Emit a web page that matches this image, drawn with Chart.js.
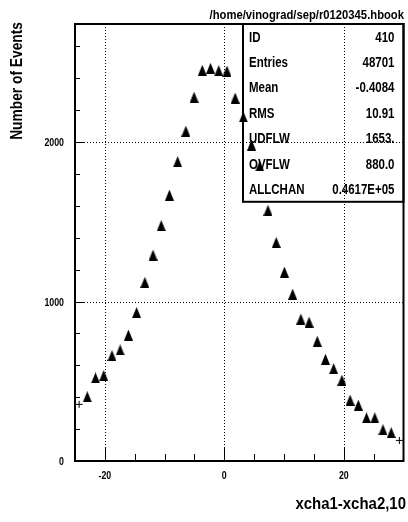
<!DOCTYPE html>
<html>
<head>
<meta charset="utf-8">
<title>xcha1-xcha2,10</title>
<script src="https://cdn.jsdelivr.net/npm/chart.js@4.4.1/dist/chart.umd.min.js"></script>
<style>
  html, body { margin: 0; padding: 0; background: #fff; }
  canvas { display: block; }
</style>
</head>
<body>
<canvas id="c" width="408" height="522"></canvas>
<script>
// Histogram 410: xcha1-xcha2, 40 bins from -25 to 30
const binCenters = [
  -24.31, -22.94, -21.56, -20.19, -18.81, -17.44, -16.06, -14.69, -13.31, -11.94,
  -10.56, -9.19, -7.81, -6.44, -5.06, -3.69, -2.31, -0.94, 0.44, 1.81,
  3.19, 4.56, 5.94, 7.31, 8.69, 10.06, 11.44, 12.81, 14.19, 15.56,
  16.94, 18.31, 19.69, 21.06, 22.44, 23.81, 25.19, 26.56, 27.94, 29.31
];
const counts = [
  355, 403, 521, 536, 661, 696, 790, 931, 1120, 1291,
  1476, 1667, 1877, 2068, 2281, 2450, 2462, 2447, 2445, 2276,
  2157, 1981, 1850, 1572, 1370, 1185, 1046, 890, 871, 751,
  638, 579, 507, 382, 350, 271, 271, 197, 178, 129
];

// Axis ranges and ticks
const xRange = [-25, 30];
const yRange = [0, 2740];
const xLabelTicks = [-20, 0, 20];
const xMinorTicks = [-15, -10, -5, 5, 10, 15, 25];
const yLabelTicks = [0, 1000, 2000];
const yMinorTicks = [200, 400, 600, 800, 1200, 1400, 1600, 1800, 2200, 2400, 2600];
const xGridLines = [-20, 0, 20];
const yGridLines = [1000, 2000];

// Texts
const fileTitle = '/home/vinograd/sep/r0120345.hbook';
const xTitle = 'xcha1-xcha2,10';
const yTitle = 'Number of Events';
const statLabels = ['ID', 'Entries', 'Mean', 'RMS', 'UDFLW', 'OVFLW', 'ALLCHAN'];
const statValues = ['410', '48701', '-0.4084', '10.91', '1653.', '880.0', '0.4617E+05'];

const FONT = '"Liberation Sans", Arial, Helvetica, sans-serif';

// Filled triangle marker
function makeTriangle(w, h) {
  const c = document.createElement('canvas');
  c.width = w; c.height = h;
  const g = c.getContext('2d');
  g.fillStyle = '#000';
  g.beginPath();
  g.moveTo(w / 2, 0);
  g.lineTo(w, h);
  g.lineTo(0, h);
  g.closePath();
  g.fill();
  return c;
}
const triangle = makeTriangle(9, 11);

// Bold narrow text helper
function drawText(ctx, txt, x, y, size, sx, align, baseline, rot) {
  ctx.save();
  ctx.font = 'bold ' + size + 'px ' + FONT;
  ctx.fillStyle = '#000';
  ctx.textAlign = align;
  ctx.textBaseline = baseline;
  ctx.translate(x, y);
  if (rot) ctx.rotate(rot);
  ctx.scale(sx, 1);
  ctx.fillText(txt, 0, 0);
  ctx.restore();
}

const frame = {
  id: 'hbookFrame',
  beforeDatasetsDraw(chart) {
    const { ctx, chartArea: a, scales: { x, y } } = chart;
    ctx.save();

    // dotted grid
    ctx.strokeStyle = '#000';
    ctx.lineWidth = 1;
    ctx.setLineDash([1, 2]);
    xGridLines.forEach(v => {
      const px = Math.round(x.getPixelForValue(v)) + 0.5;
      ctx.beginPath(); ctx.moveTo(px, a.top); ctx.lineTo(px, a.bottom); ctx.stroke();
    });
    yGridLines.forEach(v => {
      const py = Math.round(y.getPixelForValue(v)) + 0.5;
      ctx.beginPath(); ctx.moveTo(a.left, py); ctx.lineTo(a.right, py); ctx.stroke();
    });
    ctx.setLineDash([]);

    // inward tick marks
    xMinorTicks.forEach(v => {
      const px = Math.round(x.getPixelForValue(v)) + 0.5;
      ctx.beginPath(); ctx.moveTo(px, a.bottom); ctx.lineTo(px, a.bottom - 7); ctx.stroke();
    });
    xLabelTicks.forEach(v => {
      const px = Math.round(x.getPixelForValue(v)) + 0.5;
      ctx.beginPath(); ctx.moveTo(px, a.bottom); ctx.lineTo(px, a.bottom - 14); ctx.stroke();
    });
    yMinorTicks.forEach(v => {
      const py = Math.round(y.getPixelForValue(v)) + 0.5;
      ctx.beginPath(); ctx.moveTo(a.left, py); ctx.lineTo(a.left + 5, py); ctx.stroke();
    });
    yLabelTicks.forEach(v => {
      const py = Math.round(y.getPixelForValue(v)) + 0.5;
      ctx.beginPath(); ctx.moveTo(a.left, py); ctx.lineTo(a.left + 10, py); ctx.stroke();
    });

    // plot frame
    ctx.lineWidth = 2;
    ctx.strokeRect(a.left, a.top, a.right - a.left, a.bottom - a.top);

    // tick labels
    xLabelTicks.forEach(v => {
      drawText(ctx, String(v), x.getPixelForValue(v), a.bottom + 15, 11, 0.8, 'center', 'middle');
    });
    yLabelTicks.forEach(v => {
      drawText(ctx, String(v), a.left - 11, y.getPixelForValue(v) + 1, 11, 0.8, 'right', 'middle');
    });

    // titles
    drawText(ctx, fileTitle, 404, 19, 12.5, 0.9, 'right', 'alphabetic');
    drawText(ctx, xTitle, 406, 509, 17, 0.88, 'right', 'alphabetic');
    drawText(ctx, yTitle, 22, 22, 17, 0.81, 'right', 'alphabetic', -Math.PI / 2);

    // statistics box
    const bx = 243, by = a.top, bw = a.right - bx, rowH = 25.4;
    const bh = rowH * statLabels.length;
    ctx.lineWidth = 2;
    ctx.strokeRect(bx, by, bw, bh);
    statLabels.forEach((lab, i) => {
      const cy = by + rowH * (i + 0.5) + 1;
      drawText(ctx, lab, bx + 6, cy, 14, 0.82, 'left', 'middle');
      drawText(ctx, statValues[i], a.right - 9, cy, 14, 0.82, 'right', 'middle');
    });

    ctx.restore();
  }
};

const last = counts.length - 1;
new Chart(document.getElementById('c'), {
  type: 'scatter',
  data: {
    datasets: [{
      data: binCenters.map((v, i) => ({ x: v, y: counts[i] })),
      pointStyle: c => (c.dataIndex === 0 || c.dataIndex === last) ? 'cross' : triangle,
      pointRadius: 3.5,
      pointHoverRadius: 3.5,
      borderColor: '#000',
      backgroundColor: '#000',
      borderWidth: 1,
      showLine: false
    }]
  },
  options: {
    responsive: false,
    animation: false,
    devicePixelRatio: 1,
    events: [],
    layout: { padding: { left: 75, top: 24, right: 2, bottom: 61 } },
    plugins: { legend: { display: false }, title: { display: false }, tooltip: { enabled: false } },
    scales: {
      x: { type: 'linear', min: xRange[0], max: xRange[1], display: false },
      y: { type: 'linear', min: yRange[0], max: yRange[1], display: false }
    }
  },
  plugins: [frame]
});
</script>
</body>
</html>
